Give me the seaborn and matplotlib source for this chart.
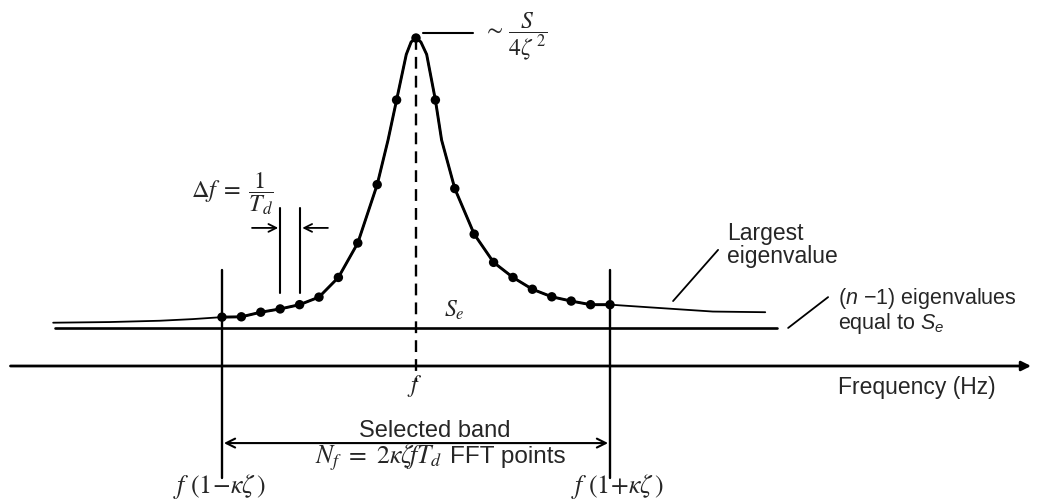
import matplotlib
matplotlib.use("Agg")
import matplotlib.pyplot as plt
import seaborn as sns
import pandas as pd

# FFT bins around the resonance (bin index, relative spectral level; peak = 100)
bins = [-10, -9, -8, -7, -6, -5, -4, -3, -2, -1, 0, 1, 2, 3, 4, 5, 6, 7, 8, 9, 10]
dot_level = [14.9, 15.0, 16.4, 17.4, 18.7, 21.0, 27.0, 37.5, 55.3, 81.1, 100.0,
             81.1, 54.1, 40.2, 31.6, 27.0, 23.4, 21.1, 19.8, 18.7, 18.7]

# continuous largest-eigenvalue curve
curve_k = [-18.7, -15.8, -13.2, -11.5, -10, -9, -8, -7, -6, -5, -4, -3, -2, -1.44, -1,
           -0.5, -0.25, 0, 0.25, 0.55, 1, 1.32, 2, 3, 4, 5, 6, 7, 8, 9, 10, 12, 15.3, 18]
curve_level = [13.2, 13.4, 13.8, 14.3, 14.9, 15.0, 16.4, 17.4, 18.7, 21.0, 27.0, 37.5, 55.3,
               68.9, 81.1, 95.0, 98.8, 100.0, 98.8, 95.0, 81.1, 68.9, 54.1, 40.2, 31.6, 27.0,
               23.4, 21.1, 19.8, 18.7, 18.7, 17.9, 16.6, 16.4]
core_k = [k for k in curve_k if -10 <= k <= 10]
core_level = [v for k, v in zip(curve_k, curve_level) if -10 <= k <= 10]

se_level = 11.6          # (n-1) eigenvalues equal to S_e
se_span = [-18.6, 18.6]
band_edges = [-10, 10]   # f(1 - kz), f(1 + kz)
df_bins = [-7, -6]       # one FFT bin spacing

curve = pd.DataFrame({"k": curve_k, "level": curve_level})
core = pd.DataFrame({"k": core_k, "level": core_level})
dots = pd.DataFrame({"k": bins, "level": dot_level})

sns.set_theme(style="white")
plt.rcParams["font.family"] = ["Liberation Sans", "DejaVu Sans"]
plt.rcParams["mathtext.fontset"] = "custom"
plt.rcParams["mathtext.rm"] = "Liberation Sans"
plt.rcParams["mathtext.it"] = "Liberation Sans:italic"

fig = plt.figure(figsize=(10.39, 4.99), dpi=100)
ax = fig.add_axes([0, 0, 1, 1])
ax.set_xlim(-21.44, 32.11)
ax.set_ylim(-40.55, 111.59)
ax.axis("off")

# curve and FFT points
sns.lineplot(data=curve, x="k", y="level", color="black", lw=1.3, ax=ax)
sns.lineplot(data=core, x="k", y="level", color="black", lw=2.1, ax=ax)
sns.scatterplot(data=dots, x="k", y="level", color="black", s=46, edgecolor="none",
                zorder=5, ax=ax)

# S_e level and frequency axis
ax.plot(se_span, [se_level, se_level], color="black", lw=1.9)
ax.annotate("", xy=(31.7, 0), xytext=(-20.9, 0),
            arrowprops=dict(arrowstyle="-|>", color="black", lw=2.0,
                            mutation_scale=14, shrinkA=0, shrinkB=0))

# band edges and centre frequency
for k in band_edges:
    ax.plot([k, k], [29.3, -34.1], color="black", lw=1.7)
ax.plot([0, 0], [100, -4.9], color="black", lw=1.7, ls=(0, (5, 3)))

# delta f marker
for k in df_bins:
    ax.plot([k, k], [48.2, 22.3], color="black", lw=1.5)
arrow = dict(arrowstyle="->", color="black", lw=1.3, mutation_scale=14,
             shrinkA=0, shrinkB=0)
ax.annotate("", xy=(-7.1, 42.1), xytext=(-8.45, 42.1), arrowprops=arrow)
ax.annotate("", xy=(-5.86, 42.1), xytext=(-4.54, 42.1), arrowprops=arrow)
ax.text(-11.6, 52.7, r"$\Delta f\;=\;\dfrac{1}{T_d}$", math_fontfamily="stix",
        fontsize=17.5, ha="left", va="center")

# peak level
ax.plot([0.36, 2.94], [101.5, 101.5], color="black", lw=1.5)
ax.text(3.45, 100.6, r"$\sim\,\dfrac{S}{4\zeta^{\,2}}$", math_fontfamily="stix",
        fontsize=17, ha="left", va="center")

# eigenvalue labels
ax.plot([15.57, 13.25], [35.4, 19.8], color="black", lw=1.3)
ax.text(16.03, 38.4, "Largest", fontsize=16.5, ha="left", va="baseline")
ax.text(16.03, 31.3, "eigenvalue", fontsize=16.5, ha="left", va="baseline")
ax.plot([21.24, 19.18], [21.0, 11.6], color="black", lw=1.3)
ax.text(21.75, 19.0, r"($n$ $-$1) eigenvalues", math_fontfamily="custom",
        fontsize=15.5, ha="left", va="baseline")
ax.text(21.75, 11.4, r"equal to $S_e$", math_fontfamily="custom",
        fontsize=15.5, ha="left", va="baseline")
ax.text(1.45, 15.0, r"$S_e$", math_fontfamily="stix", fontsize=17,
        ha="left", va="baseline")

ax.text(29.85, -8.5, "Frequency (Hz)", fontsize=16.5, ha="right", va="baseline")
ax.text(-0.05, -7.8, r"$f$", math_fontfamily="stix", fontsize=17,
        ha="center", va="baseline")

# selected band
ax.annotate("", xy=(9.9, -23.5), xytext=(-9.9, -23.5),
            arrowprops=dict(arrowstyle="<->", color="black", lw=1.5,
                            mutation_scale=16, shrinkA=0, shrinkB=0))
ax.text(0.96, -21.6, "Selected band", fontsize=17, ha="center", va="baseline")
ax.text(1.34, -29.6, r"$N_f\ =\ 2\kappa\zeta\!fT_d$", math_fontfamily="stix",
        fontsize=18.5, ha="right", va="baseline")
ax.text(1.75, -29.6, "FFT points", fontsize=17.5, ha="left", va="baseline")
ax.text(-10.15, -38.6, r"$f\ (1\!-\!\kappa\zeta\,)$", math_fontfamily="stix",
        fontsize=18.5, ha="center", va="baseline")
ax.text(10.41, -38.6, r"$f\ (1\!+\!\kappa\zeta\,)$", math_fontfamily="stix",
        fontsize=18.5, ha="center", va="baseline")

fig.savefig("out.png", dpi=100)
